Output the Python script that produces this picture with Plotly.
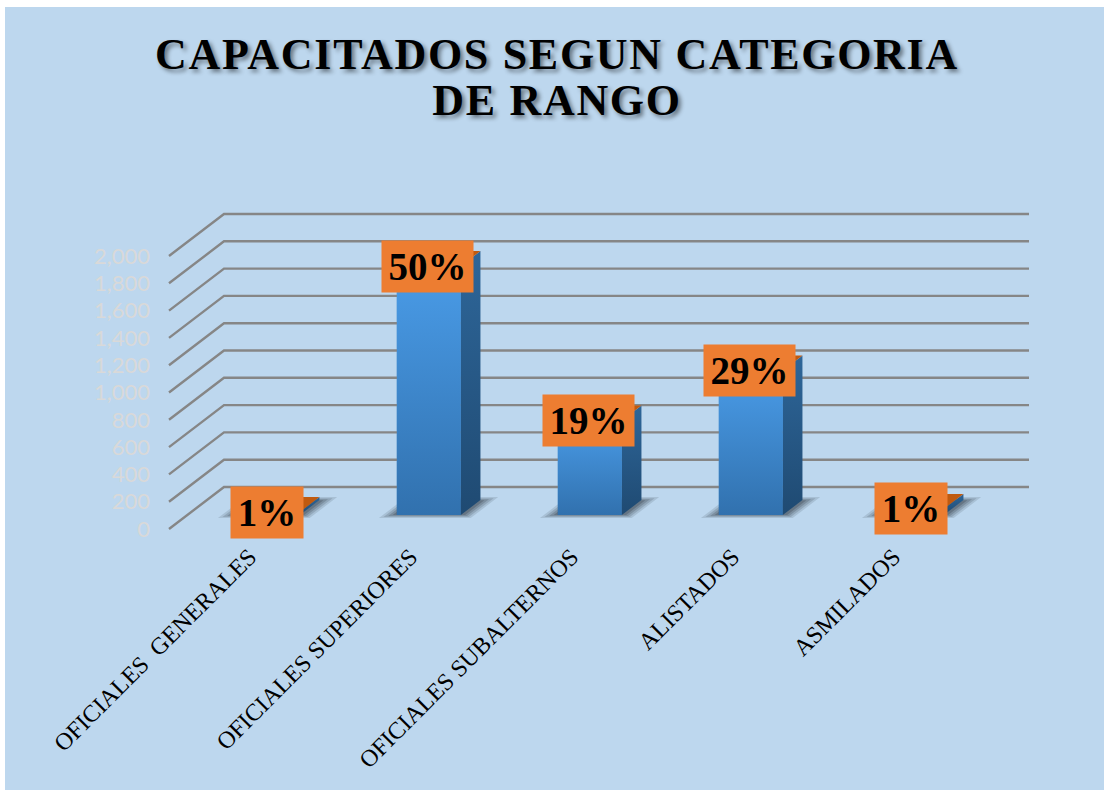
import plotly.graph_objects as go

# ---- data ----
categories = ["OFICIALES  GENERALES", "OFICIALES SUPERIORES", "OFICIALES SUBALTERNOS", "ALISTADOS", "ASMILADOS"]
values = [22, 1824, 693, 1058, 45]
percent_labels = ["1%", "50%", "19%", "29%", "1%"]
y_ticks = [0, 200, 400, 600, 800, 1000, 1200, 1400, 1600, 1800, 2000]

# ---- fake-3D geometry, in axis units ----
W, H = 1104, 790
PAD = 5                                 # extra plot area so the outermost lines are not clipped
L, R, T, B = 169 - PAD, 75 - PAD, 214 - PAD, 261 - PAD   # plot-area margins
PX_PER_CAT = 161.0
PX_PER_VAL = 0.1365
DEPTH_X = 55 / PX_PER_CAT               # x-axis units for full floor depth
DEPTH_Y = 42 / PX_PER_VAL               # y-axis units for full floor depth
D0, D1 = 1 / 3, 0.69                    # bar front and back depth
HALF = 32 / PX_PER_CAT                  # half bar width


def proj(x, v, d):
    return x + d * DEPTH_X, v + d * DEPTH_Y


def poly(pts):
    xs, ys = zip(*pts)
    return list(xs) + [xs[0]], list(ys) + [ys[0]]


fig = go.Figure()

# wall and side-wall grid lines
x_lo, x_hi = -0.5, len(categories) - 0.5
for v in y_ticks:
    a, b, c = proj(x_lo, v, 0), proj(x_lo, v, 1), proj(x_hi, v, 1)
    fig.add_trace(go.Scatter(x=[a[0], b[0], c[0]], y=[a[1], b[1], c[1]], mode="lines",
                             line=dict(color="#868686", width=2.4), hoverinfo="skip", showlegend=False))

# floor shadows
for half, inset, alpha in [(0.285, 0.0, 0.14), (0.265, 0.025, 0.18), (0.245, 0.05, 0.22), (0.225, 0.075, 0.28)]:
    for i in range(len(values)):
        p = [proj(i - half, 0, 0.26 + inset), proj(i + half, 0, 0.26 + inset),
             proj(i + half, 0, 0.76 - inset), proj(i - half, 0, 0.76 - inset)]
        xs, ys = poly(p)
        fig.add_trace(go.Scatter(x=xs, y=ys, mode="lines", fill="toself", line=dict(width=0),
                                 fillcolor=f"rgba(45,55,65,{alpha})", hoverinfo="skip", showlegend=False))

# the bars themselves
bar_x = [i + D0 * DEPTH_X for i in range(len(values))]
fig.add_trace(go.Bar(x=bar_x, y=values, base=[D0 * DEPTH_Y] * len(values), width=2 * HALF,
                     marker=dict(color="#3d85cc", line=dict(width=0)), showlegend=False))

for i, v in enumerate(values):
    # side face
    xs, ys = poly([proj(i + HALF, 0, D0), proj(i + HALF, 0, D1), proj(i + HALF, v, D1), proj(i + HALF, v, D0)])
    fig.add_trace(go.Scatter(x=xs, y=ys, mode="lines", fill="toself", line=dict(width=0),
                             fillgradient=dict(type="vertical", colorscale=[[0, "#1f4a72"], [1, "#2e6699"]]),
                             hoverinfo="skip", showlegend=False))
    # top face
    xs, ys = poly([proj(i - HALF, v, D0), proj(i + HALF, v, D0), proj(i + HALF, v, D1), proj(i - HALF, v, D1)])
    fig.add_trace(go.Scatter(x=xs, y=ys, mode="lines", fill="toself", line=dict(width=0),
                             fillcolor="#bf5a10", hoverinfo="skip", showlegend=False))
    # front face gradient
    xs, ys = poly([proj(i - HALF, 0, D0), proj(i + HALF, 0, D0), proj(i + HALF, v, D0), proj(i - HALF, v, D0)])
    fig.add_trace(go.Scatter(x=xs, y=ys, mode="lines", fill="toself", line=dict(width=0),
                             fillgradient=dict(type="vertical", colorscale=[[0, "#3171ae"], [1, "#4a9ce8"]]),
                             hoverinfo="skip", showlegend=False))

# percentage labels
for i, (v, lab) in enumerate(zip(values, percent_labels)):
    px_, py_ = proj(i, v, D0)
    fig.add_annotation(x=px_ - 0.008, y=py_, text=f"<b>{lab}</b>", showarrow=False,
                       xanchor="center", yanchor="middle", bgcolor="#ed7d31", borderpad=0,
                       width=72 if len(lab) == 2 else 91, height=51, align="center", valign="middle",
                       font=dict(family="Liberation Serif", size=39, color="#000000"))

# second title line (the reference's line spacing is tighter than a title <br> gives)
fig.add_annotation(xref="paper", yref="paper", x=(557 - L) / (W - L - R), y=(H - B - 101) / (H - T - B),
                   text="<b>DE RANGO</b>", showarrow=False, xanchor="center", yanchor="middle",
                   font=dict(family="Liberation Serif", size=44, color="#000000",
                             shadow="3px 3px 4px rgba(0,0,0,0.45)"))

fig.update_layout(
    width=W, height=H, autosize=False,
    margin=dict(l=L, r=R, t=T, b=B, autoexpand=False),
    paper_bgcolor="#ffffff", plot_bgcolor="rgba(0,0,0,0)",
    showlegend=False, hovermode=False,
    title=dict(text="<b>CAPACITADOS SEGUN CATEGORIA</b>", x=557 / W, xanchor="center",
               y=1 - 54 / H, yanchor="middle", yref="container",
               font=dict(family="Liberation Serif", size=44, color="#000000",
                         shadow="3px 3px 4px rgba(0,0,0,0.45)")),
    xaxis=dict(range=[x_lo - PAD / PX_PER_CAT, x_hi + DEPTH_X + PAD / PX_PER_CAT], tickmode="array",
               tickvals=list(range(len(categories))),
               ticktext=categories, tickangle=-45, showgrid=False, zeroline=False, showline=False,
               ticks="", ticklabelstandoff=3,
               tickfont=dict(family="Liberation Serif", size=24, color="#000000")),
    yaxis=dict(range=[-PAD / PX_PER_VAL, 2000 + DEPTH_Y + PAD / PX_PER_VAL], tickmode="array", tickvals=y_ticks,
               tickformat=",", showgrid=False, zeroline=False, showline=False, ticks="", ticklabelstandoff=13,
               tickfont=dict(family="Lato", size=22, color="#d9d9d9")),
    shapes=[dict(type="rect", xref="paper", yref="paper", layer="below", line=dict(width=0), fillcolor="#bdd7ee",
                 x0=(5 - L) / (W - L - R), x1=(W - L) / (W - L - R),
                 y0=(H - B - H) / (H - T - B), y1=(H - B - 7) / (H - T - B))],
)

# the title's wide letter spacing has no Plotly attribute, so it is set on the rendered text
post = """
document.body.style.margin='0';document.body.style.overflow='hidden';
document.querySelectorAll('text').forEach(function(t){
  if(/CAPACITADOS|DE RANGO/.test(t.textContent)){t.style.letterSpacing='1.7px';}
});
"""
fig.write_html("out.html", post_script=post, config={"displayModeBar": False})
